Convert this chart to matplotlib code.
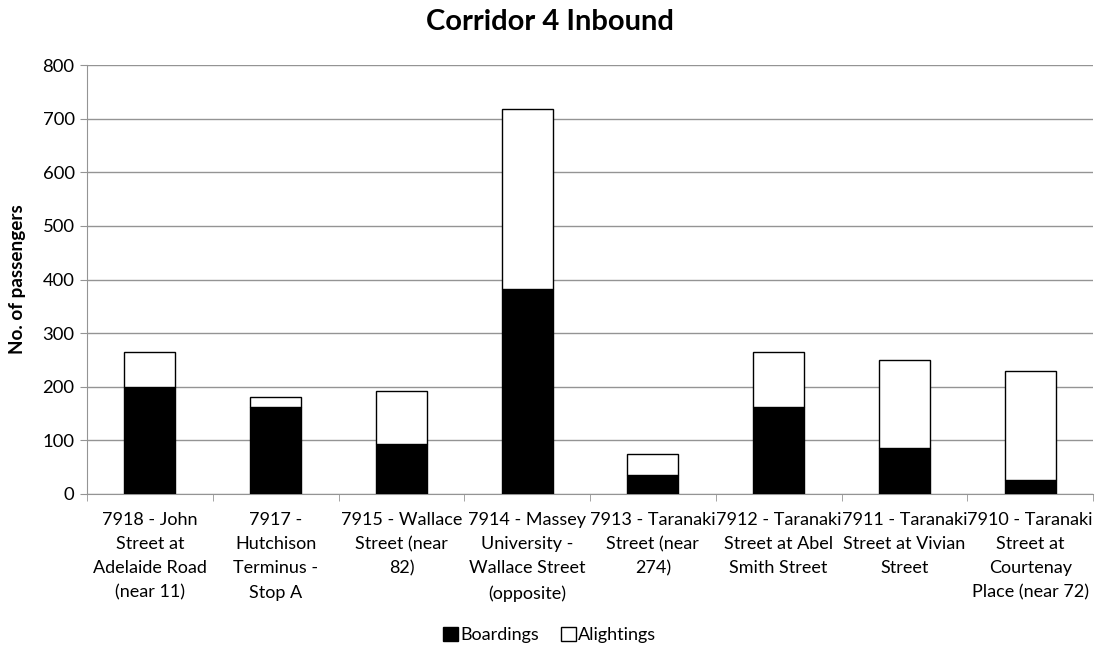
import matplotlib.pyplot as plt
import numpy as np

stops = ["7918 - John\nStreet at\nAdelaide Road\n(near 11)",
         "7917 -\nHutchison\nTerminus -\nStop A",
         "7915 - Wallace\nStreet (near\n82)",
         "7914 - Massey\nUniversity -\nWallace Street\n(opposite)",
         "7913 - Taranaki\nStreet (near\n274)",
         "7912 - Taranaki\nStreet at Abel\nSmith Street",
         "7911 - Taranaki\nStreet at Vivian\nStreet",
         "7910 - Taranaki\nStreet at\nCourtenay\nPlace (near 72)"]
boardings = [199, 162, 94, 382, 36, 162, 85, 27]
alightings = [65, 18, 99, 336, 39, 103, 165, 203]

plt.rcParams['font.family'] = ['Lato', 'DejaVu Sans']
grey = '#949494'

fig = plt.figure(figsize=(10.99, 6.49), dpi=100)
ax = fig.add_axes([87/1099, 1 - 494/649, (1093-87)/1099, (494-65)/649])

x = np.arange(len(stops))
ax.bar(x, boardings, width=0.405, color='black', edgecolor='black', linewidth=1, label='Boardings', zorder=3)
ax.bar(x, alightings, width=0.405, bottom=boardings, color='white', edgecolor='black', linewidth=1,
       label='Alightings', zorder=3)

ax.set_xlim(-0.5, len(stops) - 0.5)
ax.set_ylim(0, 800)
ax.set_yticks(range(0, 801, 100))
ax.yaxis.grid(True, color=grey, linewidth=1)
ax.set_axisbelow(True)

ax.set_xticks(x)
ax.set_xticklabels(stops, fontsize=13, linespacing=1.63)
ax.tick_params(axis='x', length=0, pad=13)
ax.set_xticks(np.arange(-0.5, len(stops), 1), minor=True)
ax.tick_params(axis='x', which='minor', length=5, color=grey, direction='out')
ax.tick_params(axis='y', length=5, color=grey, labelsize=13.3, pad=4)

for s in ['top', 'right']:
    ax.spines[s].set_visible(False)
for s in ['left', 'bottom']:
    ax.spines[s].set_color(grey)

ax.set_ylabel('No. of passengers', fontsize=13.6, fontweight='bold', labelpad=12)
fig.suptitle('Corridor 4 Inbound', fontsize=21, fontweight='bold', y=1 - 22/649, va='center')

handles, labels = ax.get_legend_handles_labels()
fig.legend(handles, labels, loc='center', bbox_to_anchor=(0.5, 1 - 635/649), ncol=2, frameon=False,
           fontsize=13, handlelength=0.83, handleheight=0.83, handletextpad=0.15, columnspacing=1.2)

fig.savefig('out.png', dpi=100)
